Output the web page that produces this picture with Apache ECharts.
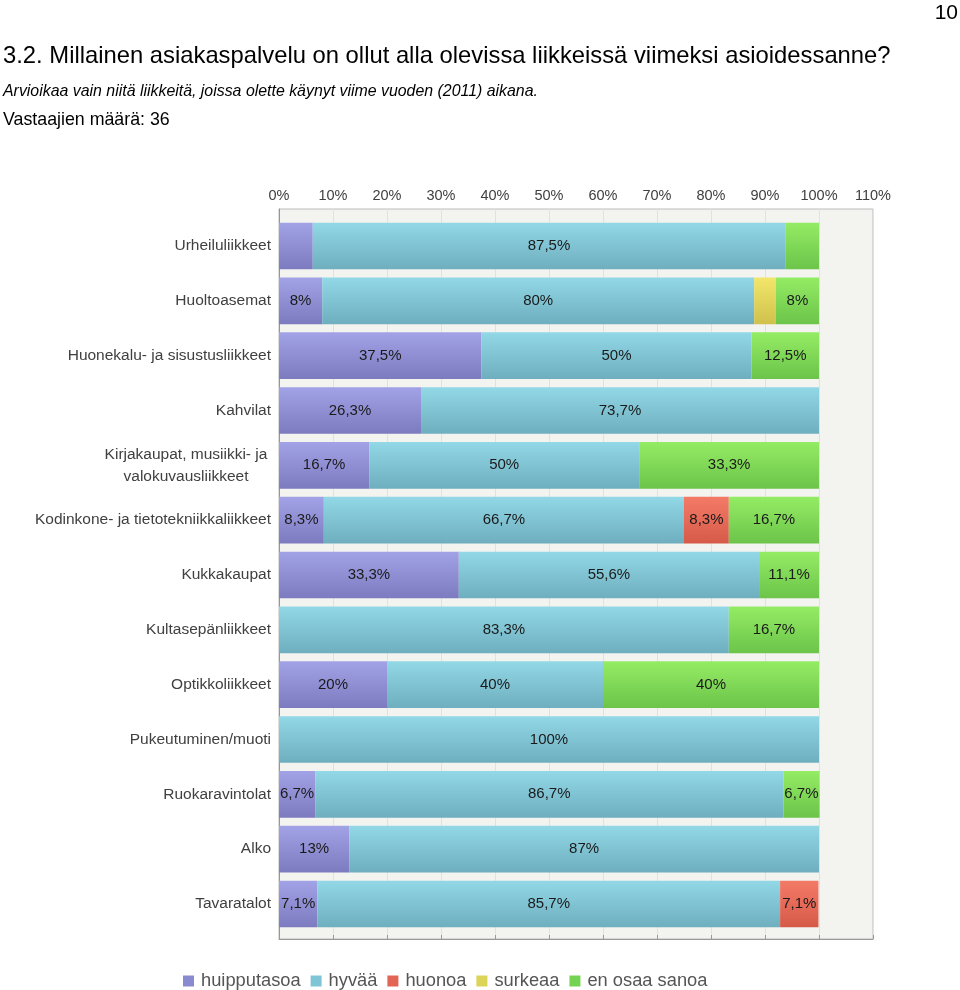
<!DOCTYPE html>
<html>
<head>
<meta charset="utf-8">
<style>
html,body{margin:0;padding:0;background:#fff;}
#chart{width:960px;height:990px;}
</style>
<script src="https://cdn.jsdelivr.net/npm/echarts@6/dist/echarts.min.js"></script>
</head>
<body>
<div id="chart"></div>
<script>
var categories = [
  'Urheiluliikkeet',
  'Huoltoasemat',
  'Huonekalu- ja sisustusliikkeet',
  'Kahvilat',
  'Kirjakaupat, musiikki- ja\nvalokuvausliikkeet',
  'Kodinkone- ja tietotekniikkaliikkeet',
  'Kukkakaupat',
  'Kultasepänliikkeet',
  'Optikkoliikkeet',
  'Pukeutuminen/muoti',
  'Ruokaravintolat',
  'Alko',
  'Tavaratalot'
];
var seriesNames = ['huipputasoa', 'hyvää', 'huonoa', 'surkeaa', 'en osaa sanoa'];
var huipputasoa = [6.25, 8, 37.5, 26.3, 16.7, 8.3, 33.3, 0, 20, 0, 6.7, 13, 7.1];
var hyvaa       = [87.5, 80, 50, 73.7, 50, 66.7, 55.6, 83.3, 40, 100, 86.7, 87, 85.7];
var huonoa      = [0, 0, 0, 0, 0, 8.3, 0, 0, 0, 0, 0, 0, 7.1];
var surkeaa     = [0, 4, 0, 0, 0, 0, 0, 0, 0, 0, 0, 0, 0];
var enOsaaSanoa = [6.25, 8, 12.5, 0, 33.3, 16.7, 11.1, 16.7, 40, 0, 6.7, 0, 0];
var xTicks = [0, 10, 20, 30, 40, 50, 60, 70, 80, 90, 100, 110];

var seriesData = [huipputasoa, hyvaa, huonoa, surkeaa, enOsaaSanoa];
var gradients = [
  ['#a2a2e6', '#7d7bbf'],
  ['#92d8e6', '#6eaebf'],
  ['#f47a68', '#d65a48'],
  ['#f2e66a', '#cfc14c'],
  ['#94ec64', '#6cc44a']
];
var flat = ['#8a8ad0', '#7ec6d6', '#e26452', '#dcd456', '#74d452'];

var FONT = '"Liberation Sans", Arial, sans-serif';

function fmt(v) {
  return String(v).replace('.', ',') + '%';
}

var series = seriesNames.map(function (name, i) {
  return {
    name: name,
    type: 'bar',
    stack: 'all',
    xAxisIndex: 1,
    yAxisIndex: 1,
    barCategoryGap: '15%',
    data: seriesData[i],
    itemStyle: {
      color: {
        type: 'linear', x: 0, y: 0, x2: 0, y2: 1,
        colorStops: [{offset: 0, color: gradients[i][0]}, {offset: 1, color: gradients[i][1]}]
      }
    },
    label: {
      show: true,
      position: 'inside',
      fontFamily: FONT,
      fontSize: 15,
      color: '#1a1a1a',
      formatter: function (p) { return p.value < 6.5 ? '' : fmt(p.value); }
    },
    emphasis: {disabled: true}
  };
});

var chart = echarts.init(document.getElementById('chart'), null, {renderer: 'canvas'});
chart.setOption({
  animation: false,
  backgroundColor: '#ffffff',
  title: [
    {text: '3.2. Millainen asiakaspalvelu on ollut alla olevissa liikkeissä viimeksi asioidessanne?',
     left: -2, top: 39, textStyle: {fontFamily: FONT, fontSize: 23.8, fontWeight: 'normal', color: '#000'}},
    {text: 'Arvioikaa vain niitä liikkeitä, joissa olette käynyt viime vuoden (2011) aikana.',
     left: -2, top: 79, textStyle: {fontFamily: FONT, fontSize: 15.9, fontStyle: 'italic', fontWeight: 'normal', color: '#000'}},
    {text: 'Vastaajien määrä: 36',
     left: -2, top: 106, textStyle: {fontFamily: FONT, fontSize: 17.8, fontWeight: 'normal', color: '#000'}},
    {text: '10', right: -3, top: -2, textStyle: {fontFamily: FONT, fontSize: 21, fontWeight: 'normal', color: '#000'}}
  ],
  legend: {
    bottom: -5,
    left: 178,
    itemWidth: 11,
    itemHeight: 11,
    itemGap: 10,
    icon: 'rect',
    textStyle: {fontFamily: FONT, fontSize: 18.3, color: '#555', padding: [0, 0, 0, 2]},
    data: seriesNames.map(function (n, i) { return {name: n, itemStyle: {color: flat[i]}}; })
  },
  grid: [
    {left: 279, right: 87, top: 209, bottom: 51, show: true, backgroundColor: '#f3f3f0', borderColor: '#bcbcbc', borderWidth: 1},
    {left: 279, right: 87, top: 218.6, bottom: 58.6}
  ],
  xAxis: [
    {
      gridIndex: 0, type: 'value', position: 'top', min: 0, max: 110, interval: 10,
      axisLine: {show: true, lineStyle: {color: '#9a9a9a'}},
      axisTick: {show: true, length: 4, lineStyle: {color: '#9a9a9a'}},
      axisLabel: {fontFamily: FONT, fontSize: 14.5, color: '#404040', margin: 6,
        formatter: function (v) { return xTicks.indexOf(v) >= 0 ? v + '%' : ''; }},
      splitLine: {show: true, lineStyle: {color: '#e2e2dc'}}
    },
    {gridIndex: 1, type: 'value', min: 0, max: 110, show: false}
  ],
  yAxis: [
    {gridIndex: 0, type: 'value', min: 0, max: 1, axisLabel: {show: false}, axisTick: {show: false},
     splitLine: {show: false}, axisLine: {show: true, lineStyle: {color: '#8f93b6'}}},
    {
      gridIndex: 1, type: 'category', inverse: true, data: categories,
      axisLine: {show: false}, axisTick: {show: false},
      axisLabel: {
        fontFamily: FONT, fontSize: 15.5, color: '#404040', margin: 8, lineHeight: 22,
        formatter: function (v) {
          if (v.indexOf('\n') < 0) return v;
          return v.split('\n').map(function (s) { return '{c|' + s + '}'; }).join('\n');
        },
        rich: {c: {fontFamily: FONT, fontSize: 15.5, color: '#404040', width: 170, align: 'center', lineHeight: 22}}
      }
    }
  ],
  series: series
});
</script>
</body>
</html>
